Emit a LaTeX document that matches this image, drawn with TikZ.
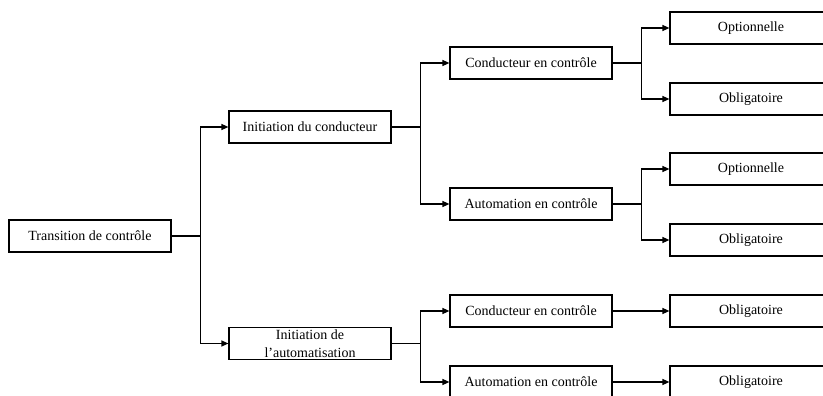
\documentclass[tikz,border=0pt]{standalone}
\usepackage{fontspec}
\setmainfont{Liberation Serif}
\usepackage{tikz}
\usetikzlibrary{arrows.meta}

\tikzset{
  box/.style={draw, line width=1.2pt, minimum width=162pt, minimum height=32pt,
    inner sep=0pt, align=center, font=\fontsize{14}{18}\selectfont},
  arr/.style={line width=1.2pt, -{Triangle[length=7pt,width=6pt]}},
}

\begin{document}
\begin{tikzpicture}[x=1pt, y=-1pt]
  \clip (0,0) rectangle (823,396);
  \useasboundingbox (0,0) rectangle (823,396);

  % levels of the tree
  \node[box] (trans) at (90,236) {Transition de contr\^ole};
  \node[box] (initc) at (310,127) {Initiation du conducteur};
  \node[box] (inita) at (310,343.5) {Initiation de\\l’automatisation};
  \node[box] (condA) at (531,63) {Conducteur en contr\^ole};
  \node[box] (autoA) at (531,204) {Automation en contr\^ole};
  \node[box] (condB) at (531,311) {Conducteur en contr\^ole};
  \node[box] (autoB) at (531,382) {Automation en contr\^ole};
  \node[box] (optA) at (751,28) {Optionnelle};
  \node[box] (oblA) at (751,99) {Obligatoire};
  \node[box] (optB) at (751,169) {Optionnelle};
  \node[box] (oblB) at (751,240) {Obligatoire};
  \node[box] (oblC) at (751,311) {Obligatoire};
  \node[box] (oblD) at (751,382) {Obligatoire};

  % connectors
  \draw[arr] (trans.east) -- ++(29,0) |- (initc.west);
  \draw[arr] (trans.east) -- ++(29,0) |- (inita.west);
  \draw[arr] (initc.east) -- ++(29,0) |- (condA.west);
  \draw[arr] (initc.east) -- ++(29,0) |- (autoA.west);
  \draw[arr] (inita.east) -- ++(29,0) |- (condB.west);
  \draw[arr] (inita.east) -- ++(29,0) |- (autoB.west);
  \draw[arr] (condA.east) -- ++(29,0) |- (optA.west);
  \draw[arr] (condA.east) -- ++(29,0) |- (oblA.west);
  \draw[arr] (autoA.east) -- ++(29,0) |- (optB.west);
  \draw[arr] (autoA.east) -- ++(29,0) |- (oblB.west);
  \draw[arr] (condB.east) -- (oblC.west);
  \draw[arr] (autoB.east) -- (oblD.west);
\end{tikzpicture}
\end{document}
